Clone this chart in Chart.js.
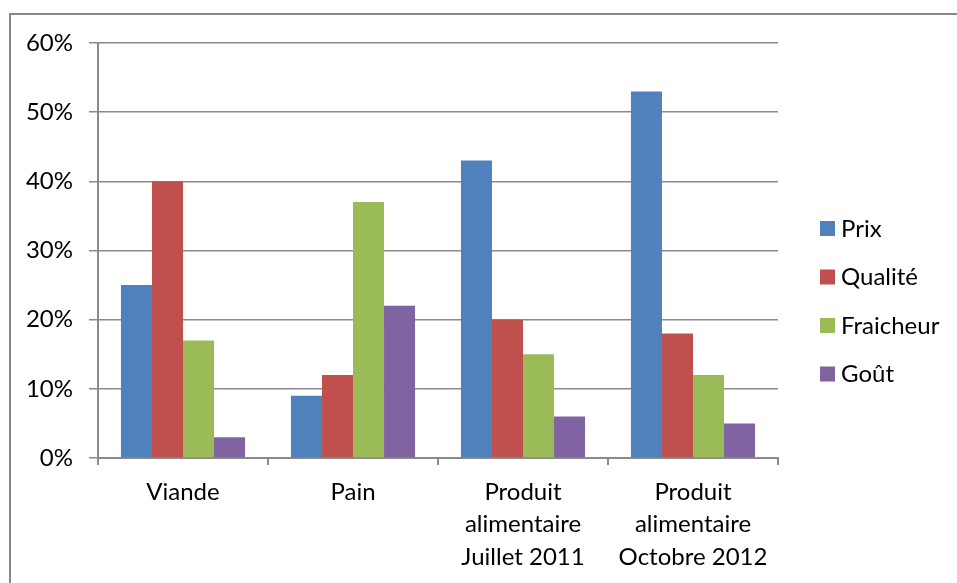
<!DOCTYPE html>
<html lang="fr">
<head>
<meta charset="UTF-8">
<title>Critères d'achat</title>
<script src="https://cdn.jsdelivr.net/npm/chart.js"></script>
<style>
    html, body { margin: 0; padding: 0; background: #fff; overflow: hidden; }
    /* cadre gris du graphique, coupé à droite et en bas */
    .cadre { position: absolute; left: 9px; top: 13px; width: 1000px; height: 700px; border: 2px solid #878787; box-sizing: border-box; }
    .zone { position: absolute; left: 0; top: 0; width: 957px; height: 583px; }
</style>
</head>
<body>
<div class="cadre"></div>
<div class="zone"><canvas id="graphique" width="957" height="583"></canvas></div>
<script>
    // données
    const categories = [
        'Viande',
        'Pain',
        ['Produit', 'alimentaire', 'Juillet 2011'],
        ['Produit', 'alimentaire', 'Octobre 2012']
    ];
    const prix = [25, 9, 43, 53];
    const qualite = [40, 12, 20, 18];
    const fraicheur = [17, 37, 15, 12];
    const gout = [3, 22, 6, 5];
    const yTicks = [0, 10, 20, 30, 40, 50, 60];

    const police = "Lato, 'Open Sans', sans-serif";
    const gris = '#8a8a8a';

    // légende dessinée à droite du graphique
    const legendeDroite = {
        id: 'legendeDroite',
        afterDraw(chart) {
            const ctx = chart.ctx;
            ctx.save();
            ctx.font = '24px ' + police;
            ctx.textBaseline = 'middle';
            chart.data.datasets.forEach((ds, i) => {
                const y = 228 + i * 48.5;
                ctx.fillStyle = ds.backgroundColor;
                ctx.fillRect(820, y - 7, 15, 15);
                ctx.fillStyle = '#000';
                ctx.fillText(ds.label, 841, y + 1);
            });
            ctx.restore();
        }
    };

    new Chart(document.getElementById('graphique'), {
        type: 'bar',
        data: {
            labels: categories,
            datasets: [
                { label: 'Prix', data: prix, backgroundColor: '#4F81BD' },
                { label: 'Qualité', data: qualite, backgroundColor: '#C0504D' },
                { label: 'Fraicheur', data: fraicheur, backgroundColor: '#9BBB59' },
                { label: 'Goût', data: gout, backgroundColor: '#8064A2' }
            ]
        },
        options: {
            responsive: false,
            animation: false,
            layout: { padding: { left: 0, top: 43, right: 179, bottom: 0 } },
            datasets: { bar: { barPercentage: 1, categoryPercentage: 0.73 } },
            plugins: { legend: { display: false }, tooltip: { enabled: false } },
            scales: {
                x: {
                    afterFit: s => { s.height = 125; },
                    grid: { drawOnChartArea: false, drawTicks: true, tickLength: 7, color: gris, lineWidth: 2, offset: true },
                    border: { color: gris, width: 2 },
                    ticks: { color: '#000', font: { family: police, size: 24, lineHeight: 1.35 }, padding: 11, maxRotation: 0, autoSkip: false }
                },
                y: {
                    min: 0, max: 60,
                    afterFit: s => { s.width = 98; },
                    afterBuildTicks: s => { s.ticks = yTicks.map(v => ({ value: v })); },
                    grid: { color: gris, lineWidth: 1.5, tickLength: 9 },
                    border: { color: gris, width: 2 },
                    ticks: { color: '#000', font: { family: police, size: 24 }, padding: 16, callback: v => v + '%' }
                }
            }
        },
        plugins: [legendeDroite]
    });
</script>
</body>
</html>
